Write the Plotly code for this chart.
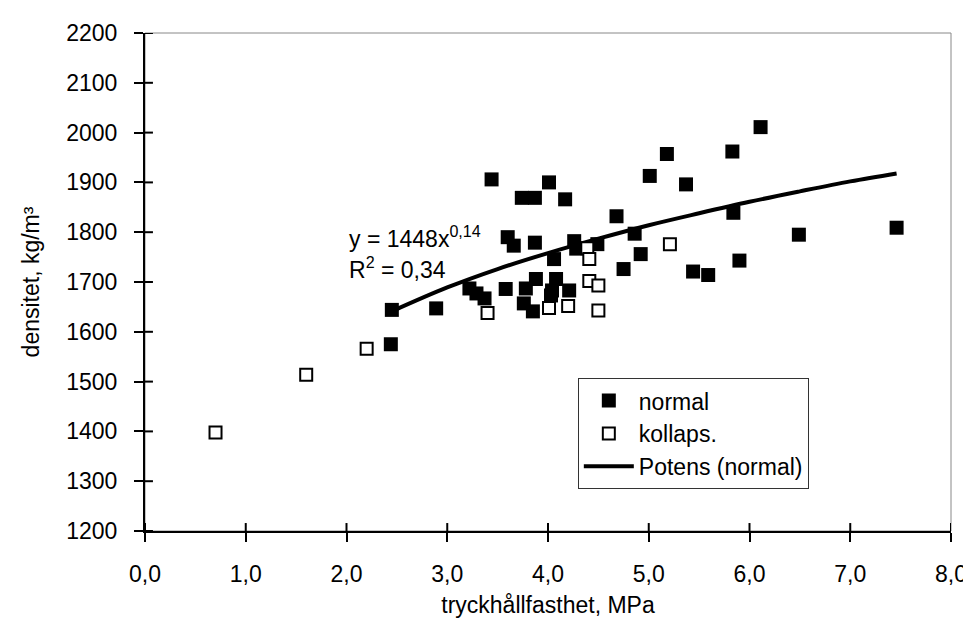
import plotly.graph_objects as go

# ---- data ----
normal_x = [2.45, 2.44, 2.89, 3.44, 4.01, 3.74, 3.87, 4.17, 4.68, 3.60, 3.66, 3.87,
            4.26, 4.28, 4.49, 4.06, 3.22, 3.29, 3.37, 3.58, 3.78, 3.88, 3.76, 3.85,
            4.08, 4.04, 4.03, 4.21, 4.86, 4.92, 4.75, 5.01, 5.18, 5.37, 5.44, 5.59,
            5.83, 5.84, 5.90, 6.11, 6.49, 7.46]
normal_y = [1644, 1575, 1647, 1906, 1900, 1869, 1869, 1866, 1832, 1790, 1773, 1779,
            1782, 1767, 1776, 1746, 1687, 1677, 1667, 1686, 1687, 1706, 1657, 1641,
            1706, 1683, 1673, 1683, 1797, 1756, 1726, 1913, 1957, 1896, 1721, 1714,
            1962, 1839, 1743, 2011, 1795, 1809]

kollaps_x = [0.70, 1.60, 2.20, 3.40, 4.01, 4.20, 4.39, 4.41, 4.41, 4.50, 4.50, 5.21]
kollaps_y = [1398, 1514, 1566, 1638, 1648, 1652, 1768, 1746, 1702, 1693, 1643, 1776]

trend_x = [2.45, 3.0, 3.5, 4.0, 4.5, 5.0, 5.5, 6.0, 6.5, 7.0, 7.46]
trend_y = [1641, 1689, 1726, 1758, 1787, 1814, 1838, 1861, 1882, 1902, 1918]

x_tick_vals = [0, 1, 2, 3, 4, 5, 6, 7, 8]
x_tick_labels = ["0,0", "1,0", "2,0", "3,0", "4,0", "5,0", "6,0", "7,0", "8,0"]
y_tick_vals = [1200, 1300, 1400, 1500, 1600, 1700, 1800, 1900, 2000, 2100, 2200]
y_tick_labels = [str(v) for v in y_tick_vals]
X_RANGE = [0, 8]
Y_RANGE = [1200, 2200]

FONT = "Liberation Sans, Arial, sans-serif"
FS = 23
W, H = 971, 625
M = dict(l=137, r=23, t=23, b=102)
PLOT_W = W - M["l"] - M["r"]
PLOT_H = H - M["t"] - M["b"]
INNER_TICK = 8  # px length of the tick half inside the plot area

fig = go.Figure()
fig.add_trace(go.Scatter(
    x=normal_x, y=normal_y, mode="markers", name="normal",
    marker=dict(symbol="square", size=14, color="black", line=dict(width=0)),
    legendrank=1))
fig.add_trace(go.Scatter(
    x=trend_x, y=trend_y, mode="lines", name="Potens (normal)",
    line=dict(color="black", width=4, shape="spline"), legendrank=3))
fig.add_trace(go.Scatter(
    x=kollaps_x, y=kollaps_y, mode="markers", name="kollaps.",
    marker=dict(symbol="square", size=12, color="white", line=dict(color="black", width=2)),
    legendrank=2))

axis_common = dict(showgrid=False, zeroline=False, showline=True, linecolor="black",
                   linewidth=2, ticks="outside", ticklen=9, tickwidth=2, tickcolor="black",
                   tickfont=dict(family=FONT, size=FS, color="black"))

# inner halves of the crossing tick marks, placed at the tick values
shapes = [dict(type="rect", xref="paper", yref="paper", x0=0, y0=0, x1=1, y1=1,
               line=dict(color="#888888", width=1), layer="below")]
for v in x_tick_vals:
    shapes.append(dict(type="line", xref="x", yref="y domain", x0=v, x1=v,
                       y0=0, y1=INNER_TICK / PLOT_H, line=dict(color="black", width=2)))
for v in y_tick_vals:
    shapes.append(dict(type="line", xref="x domain", yref="y", x0=0, x1=INNER_TICK / PLOT_W,
                       y0=v, y1=v, line=dict(color="black", width=2)))

fig.update_layout(
    width=W, height=H,
    margin=M,
    plot_bgcolor="white", paper_bgcolor="white",
    font=dict(family=FONT, size=FS, color="black"),
    xaxis=dict(range=X_RANGE, tickmode="array", tickvals=x_tick_vals, ticktext=x_tick_labels,
               ticklabelstandoff=12,
               title=dict(text="tryckhållfasthet, MPa", standoff=11,
                          font=dict(family=FONT, size=FS)),
               **axis_common),
    yaxis=dict(range=Y_RANGE, tickmode="array", tickvals=y_tick_vals, ticktext=y_tick_labels,
               ticklabelstandoff=12,
               title=dict(text="densitet, kg/m³", standoff=20,
                          font=dict(family=FONT, size=FS)),
               **axis_common),
    legend=dict(x=0.537, y=0.307, xanchor="left", yanchor="top",
                bgcolor="white", bordercolor="#333333", borderwidth=1,
                font=dict(family=FONT, size=23, color="black"),
                itemwidth=50, tracegroupgap=0),
    showlegend=True,
    shapes=shapes,
    annotations=[
        dict(x=2.0, y=1790, xref="x", yref="y", xanchor="left", yanchor="middle",
             text="y = 1448x<sup>0,14</sup>", showarrow=False,
             font=dict(family=FONT, size=FS, color="black")),
        dict(x=2.0, y=1728, xref="x", yref="y", xanchor="left", yanchor="middle",
             text="R<sup>2</sup> = 0,34", showarrow=False,
             font=dict(family=FONT, size=FS, color="black")),
    ],
)

fig.write_html("out.html")
